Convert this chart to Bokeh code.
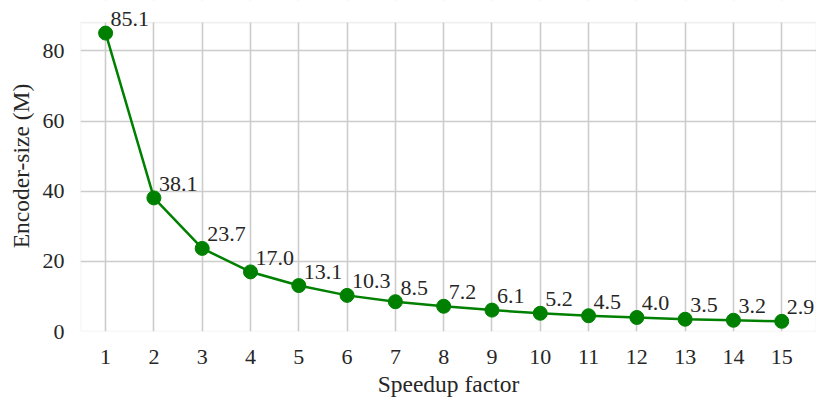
from bokeh.plotting import figure
from bokeh.models import ColumnDataSource, FixedTicker, Range1d, LabelSet, BoxAnnotation
from bokeh.embed import file_html
from bokeh.resources import INLINE

speedup = [1, 2, 3, 4, 5, 6, 7, 8, 9, 10, 11, 12, 13, 14, 15]
encoder_size = [85.1, 38.1, 23.7, 17.0, 13.1, 10.3, 8.5, 7.2, 6.1, 5.2, 4.5, 4.0, 3.5, 3.2, 2.9]
labels = [f"{v:.1f}" for v in encoder_size]
y_ticks = [0, 20, 40, 60, 80]

FONT = "Liberation Serif"
TXT = "#262626"
GRID = "#cccccc"
GREEN = "#008000"
FS = "22px"
FS_LAB = "23.5px"

X0, X1 = 0.48, 15.72      # axes limits
Y0, Y1 = 0.0, 88.1
Y_EXT = 94.4               # extra room above the axes for the top value label

src = ColumnDataSource(dict(x=speedup, y=encoder_size, lab=labels))

p = figure(width=816, height=401, output_backend="svg", toolbar_location=None,
           x_range=Range1d(X0, X1), y_range=Range1d(Y0, Y_EXT),
           min_border_left=80, min_border_right=0, min_border_top=0, min_border_bottom=70)

# white mask over grid above the real axes top, then the axes frame
p.add_layout(BoxAnnotation(bottom=Y1, fill_color="white", fill_alpha=1.0,
                           line_color=None, level="underlay"))
p.add_layout(BoxAnnotation(left=X0, right=X1, bottom=Y0, top=Y1, fill_alpha=0,
                           line_color=GRID, line_width=1.6, level="underlay"))

p.line("x", "y", source=src, line_color=GREEN, line_width=2.5)
p.scatter("x", "y", source=src, size=14, fill_color=GREEN, line_color=GREEN)
p.add_layout(LabelSet(x="x", y="y", text="lab", source=src, x_offset=5, y_offset=7,
                      text_align="left", text_baseline="alphabetic",
                      text_font=FONT, text_font_size=FS, text_color=TXT))

p.xaxis.ticker = FixedTicker(ticks=speedup)
p.yaxis.ticker = FixedTicker(ticks=y_ticks)
p.xaxis.axis_label = "Speedup factor"
p.yaxis.axis_label = "Encoder-size (M)"

for ax in (p.xaxis[0], p.yaxis[0]):
    ax.axis_line_color = None
    ax.major_tick_line_color = None
    ax.minor_tick_line_color = None
    ax.major_label_text_font = FONT
    ax.major_label_text_font_size = FS
    ax.major_label_text_color = TXT
    ax.axis_label_text_font = FONT
    ax.axis_label_text_font_size = FS_LAB
    ax.axis_label_text_font_style = "normal"
    ax.axis_label_text_color = TXT
p.yaxis.major_label_standoff = 10
p.yaxis.axis_label_standoff = 6
p.xaxis.major_label_standoff = 12
p.xaxis.axis_label_standoff = 4

p.grid.grid_line_color = GRID
p.grid.grid_line_width = 1.6
p.outline_line_color = None
p.background_fill_color = "white"
p.border_fill_color = "white"

open("out.html", "w").write(file_html(p, INLINE))
